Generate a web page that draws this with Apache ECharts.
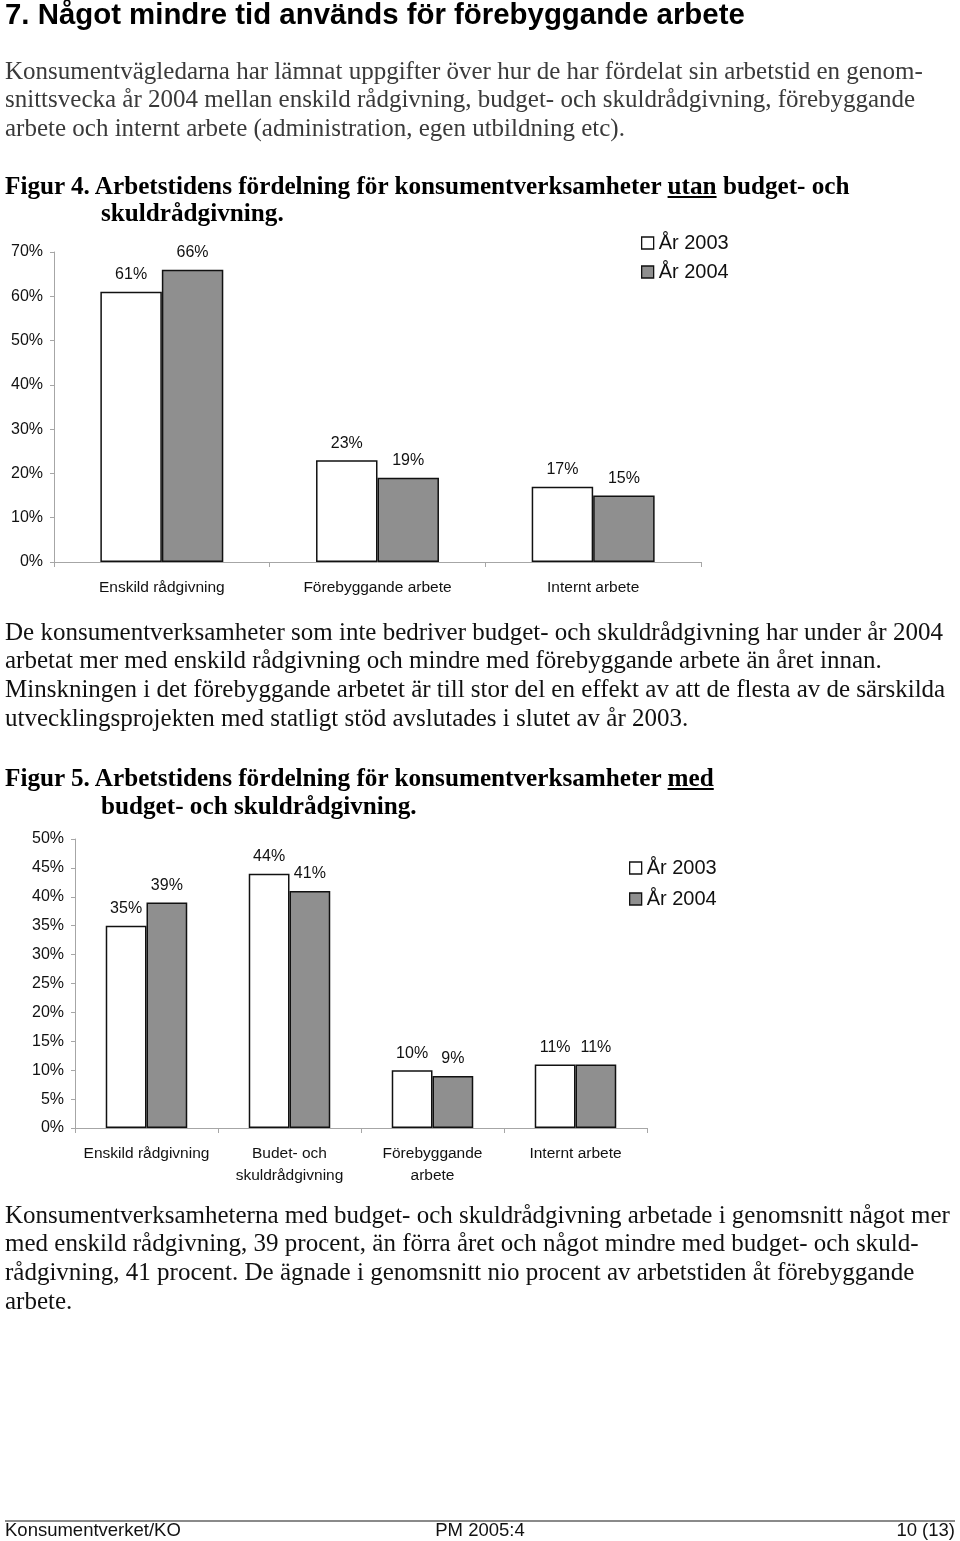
<!DOCTYPE html>
<html lang="sv">
<head>
<meta charset="utf-8">
<title>7. Något mindre tid används för förebyggande arbete</title>
<script src="https://cdn.jsdelivr.net/npm/echarts@6/dist/echarts.min.js"></script>
<style>
  html, body { margin: 0; padding: 0; background: #fff; }
  #page { position: relative; width: 960px; height: 1541px; overflow: hidden; background: #fff; }
  #chart { position: absolute; left: 0; top: 0; width: 960px; height: 1541px; z-index: 0; }
  .t { position: absolute; z-index: 1; white-space: nowrap; margin: 0; }
  .h1 { font-family: "Liberation Sans", Arial, sans-serif; font-weight: bold; font-size: 29.4px; line-height: 34px; color: #000; }
  .body { font-family: "Liberation Serif", "Times New Roman", serif; font-size: 25px; line-height: 28.8px; color: #111; }
  .gray { color: #3a3a3a; }
  .fig { font-family: "Liberation Serif", "Times New Roman", serif; font-weight: bold; font-size: 25.2px; line-height: 28px; color: #000; }
  .foot { font-family: "Liberation Sans", Arial, sans-serif; font-size: 18.5px; line-height: 22px; color: #111; }
  #footline { position: absolute; left: 5px; width: 950px; top: 1520px; height: 0; border-top: 2px solid #8a8a8a; }
</style>
</head>
<body>
<div id="page">
  <div id="chart"></div>

  <div class="t h1" style="left:5px; top:-3px;">7. Något mindre tid används för förebyggande arbete</div>

  <div class="t body gray" style="left:5px; top:56.6px;">
    Konsumentvägledarna har lämnat uppgifter över hur de har fördelat sin arbetstid en genom-<br>
    snittsvecka år 2004 mellan enskild rådgivning, budget- och skuldrådgivning, förebyggande<br>
    arbete och internt arbete (administration, egen utbildning etc).
  </div>

  <div class="t fig" style="left:5px; top:172px;">Figur 4. Arbetstidens fördelning för konsumentverksamheter <u>utan</u> budget- och</div>
  <div class="t fig" style="left:101px; top:199px;">skuldrådgivning.</div>

  <div class="t body" style="left:5px; top:617.6px;">
    De konsumentverksamheter som inte bedriver budget- och skuldrådgivning har under år 2004<br>
    arbetat mer med enskild rådgivning och mindre med förebyggande arbete än året innan.<br>
    Minskningen i det förebyggande arbetet är till stor del en effekt av att de flesta av de särskilda<br>
    utvecklingsprojekten med statligt stöd avslutades i slutet av år 2003.
  </div>

  <div class="t fig" style="left:5px; top:764px;">Figur 5. Arbetstidens fördelning för konsumentverksamheter <u>med</u></div>
  <div class="t fig" style="left:101px; top:792px;">budget- och skuldrådgivning.</div>

  <div class="t body" style="left:5px; top:1200.6px;">
    Konsumentverksamheterna med budget- och skuldrådgivning arbetade i genomsnitt något mer<br>
    med enskild rådgivning, 39 procent, än förra året och något mindre med budget- och skuld-<br>
    rådgivning, 41 procent. De ägnade i genomsnitt nio procent av arbetstiden åt förebyggande<br>
    arbete.
  </div>

  <div id="footline"></div>
  <div class="t foot" style="left:5px; top:1519px;">Konsumentverket/KO</div>
  <div class="t foot" style="left:480px; top:1519px; transform:translateX(-50%);">PM 2005:4</div>
  <div class="t foot" style="right:5px; top:1519px;">10 (13)</div>
</div>

<script>
// ---- Data ----
const seriesNames = ['År 2003', 'År 2004'];

const fig4Categories = ['Enskild rådgivning', 'Förebyggande arbete', 'Internt arbete'];
const fig4Year2003 = [61, 23, 17];
const fig4Year2004 = [66, 19, 15];

const fig5Categories = ['Enskild rådgivning', 'Budet- och\nskuldrådgivning', 'Förebyggande\narbete', 'Internt arbete'];
const fig5Year2003 = [35, 44, 10, 11];
const fig5Year2004 = [39, 41, 9, 11];

// ---- Styles ----
const FONT = '"Liberation Sans", Arial, sans-serif';
const TEXT = '#111';
const AXIS = '#a6a6a6';
const FILLS = ['#ffffff', '#8f8f8f'];

function yAxis(gridIndex, max, interval) {
  return {
    type: 'value', gridIndex: gridIndex, min: 0, max: max, interval: interval,
    axisLine: { show: true, lineStyle: { color: AXIS, width: 1 } },
    axisTick: { show: true, length: 4, lineStyle: { color: AXIS } },
    splitLine: { show: false },
    axisLabel: { formatter: '{value}%', fontSize: 16, color: TEXT, fontFamily: FONT, margin: 11 }
  };
}
function xAxis(gridIndex, cats) {
  return {
    type: 'category', gridIndex: gridIndex, data: cats,
    axisLine: { show: true, lineStyle: { color: AXIS, width: 1 } },
    axisTick: { show: true, length: 5, interval: 0, lineStyle: { color: AXIS } },
    axisLabel: { interval: 0, fontSize: 15.5, lineHeight: 22, color: TEXT, fontFamily: FONT, margin: 15 }
  };
}
function bar(name, idx, data, fill) {
  return {
    type: 'bar', name: name, xAxisIndex: idx, yAxisIndex: idx, data: data,
    barGap: '0%', barCategoryGap: '43%',
    itemStyle: { color: fill, borderColor: '#111', borderWidth: 1.5 },
    label: { show: true, position: 'top', distance: 9, formatter: '{c}%', fontSize: 16, color: TEXT, fontFamily: FONT },
    emphasis: { disabled: true },
    animation: false
  };
}
function legend(left, top, size, gap) {
  return {
    orient: 'vertical', left: left, top: top, padding: 0, data: seriesNames,
    icon: 'rect', itemWidth: size, itemHeight: size, itemGap: gap,
    selectedMode: false,
    textStyle: { fontSize: 20, lineHeight: 20, color: TEXT, fontFamily: FONT },
    itemStyle: { borderColor: '#111', borderWidth: 1.3 }
  };
}

const chart = echarts.init(document.getElementById('chart'), null, { renderer: 'canvas' });
chart.setOption({
  animation: false,
  backgroundColor: 'transparent',
  grid: [
    { left: 54, top: 252, width: 647, height: 310, containLabel: false },
    { left: 75, top: 839, width: 572, height: 289, containLabel: false }
  ],
  xAxis: [xAxis(0, fig4Categories), xAxis(1, fig5Categories)],
  yAxis: [yAxis(0, 70, 10), yAxis(1, 50, 5)],
  legend: [legend(641, 233, 12, 9), legend(629, 858, 12, 11)],
  series: [
    bar(seriesNames[0], 0, fig4Year2003, FILLS[0]),
    bar(seriesNames[1], 0, fig4Year2004, FILLS[1]),
    bar(seriesNames[0], 1, fig5Year2003, FILLS[0]),
    bar(seriesNames[1], 1, fig5Year2004, FILLS[1])
  ]
});
</script>
</body>
</html>
